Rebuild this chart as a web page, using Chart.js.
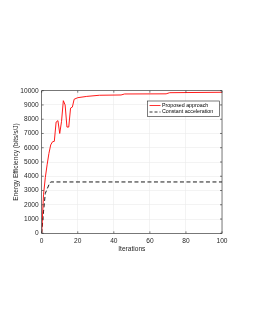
<!DOCTYPE html>
<html><head><meta charset="utf-8">
<script src="https://cdn.jsdelivr.net/npm/chart.js@4/dist/chart.umd.min.js"></script>
<style>html,body{margin:0;padding:0;background:#fff;}canvas{display:block;}</style>
</head><body>
<canvas id="c" width="255" height="330"></canvas>
<script>
const proposedX = [0,1,2,3,4,5,6,7,8,9,10,11,12,13,14,15,16,17,18,20,25,32,44,46,69,71,80,100];
const proposedY = [0,2700,3900,4800,5600,6200,6420,6450,7800,7900,7000,7850,9300,9000,7450,7450,8780,8850,9400,9510,9600,9680,9700,9770,9780,9860,9870,9890];
const constX = [0,1,2,3,4,5,100];
const constY = [0,1500,2800,3100,3400,3600,3600];
const xTicks = [0,20,40,60,80,100];
const yTicks = [0,1000,2000,3000,4000,5000,6000,7000,8000,9000,10000];
const seriesNames = ['Proposed approach','Constant acceleration'];
const xTitle = 'Iterations';
const yTitle = 'Energy Efficiency (bits/s/J)';

const FONT = 'Liberation Sans, Arial, sans-serif';
const AXC = '#262626';

const boxPlugin = {
  id:'box',
  afterDraw(chart){
    const {ctx, chartArea:a} = chart;
    ctx.save();
    ctx.strokeStyle = AXC; ctx.lineWidth = 0.6;
    ctx.strokeRect(a.left, a.top, a.right-a.left, a.bottom-a.top);
    const xs = chart.scales.x, ys = chart.scales.y;
    ctx.beginPath();
    xTicks.forEach(v=>{const p=xs.getPixelForValue(v); ctx.moveTo(p,a.bottom); ctx.lineTo(p,a.bottom-2); ctx.moveTo(p,a.top); ctx.lineTo(p,a.top+2);});
    yTicks.forEach(v=>{const p=ys.getPixelForValue(v); ctx.moveTo(a.left,p); ctx.lineTo(a.left+2,p); ctx.moveTo(a.right,p); ctx.lineTo(a.right-2,p);});
    ctx.stroke();
    // legend
    const lx = 147.5, ly = 101, lw = 72, lh = 15.5;
    ctx.fillStyle = '#fff'; ctx.fillRect(lx,ly,lw,lh);
    ctx.strokeStyle = AXC; ctx.lineWidth = 0.6; ctx.strokeRect(lx,ly,lw,lh);
    ctx.font = '5.3px ' + FONT; ctx.fillStyle = '#000'; ctx.textBaseline='middle';
    const rows = [[ly+4.5,'#ff0000',[]],[ly+11,'#000',[3,2]]];
    rows.forEach((r,i)=>{
      ctx.beginPath(); ctx.strokeStyle=r[1]; ctx.lineWidth=0.8; ctx.setLineDash(r[2]);
      ctx.moveTo(lx+2,r[0]); ctx.lineTo(lx+13,r[0]); ctx.stroke(); ctx.setLineDash([]);
      ctx.fillText(seriesNames[i], lx+14.5, r[0]);
    });
    ctx.restore();
  }
};

new Chart(document.getElementById('c'), {
  type:'line',
  data:{datasets:[
    {label:seriesNames[0], data:proposedX.map((x,i)=>({x, y:proposedY[i]})), borderColor:'#ff0000', borderWidth:0.9, pointRadius:0, tension:0, fill:false},
    {label:seriesNames[1], data:constX.map((x,i)=>({x, y:constY[i]})), borderColor:'#000000', borderWidth:0.9, borderDash:[4,2.5], pointRadius:0, tension:0, fill:false}
  ]},
  options:{
    responsive:false, animation:false, devicePixelRatio:1,
    layout:{padding:{top:90.7, right:33, left:8, bottom:76.7}},
    plugins:{legend:{display:false}, tooltip:{enabled:false}},
    scales:{
      x:{type:'linear', min:0, max:100,
         afterBuildTicks(s){s.ticks = xTicks.map(v=>({value:v}));},
         afterFit(s){s.height = 20;},
         grid:{color:'#ebebeb', lineWidth:0.6, drawTicks:false},
         border:{display:false},
         ticks:{color:AXC, font:{family:FONT,size:6.6}, padding:4, maxRotation:0, callback:v=>String(v)},
         title:{display:true, text:xTitle, color:AXC, font:{family:FONT,size:6.6}, padding:{top:5, bottom:0}}
      },
      y:{min:0, max:10000,
         afterBuildTicks(s){s.ticks = yTicks.map(v=>({value:v}));},
         afterFit(s){s.width = 33.7;},
         grid:{color:'#ebebeb', lineWidth:0.6, drawTicks:false},
         border:{display:false},
         ticks:{color:AXC, font:{family:FONT,size:6.6}, padding:3, callback:v=>String(v)},
         title:{display:true, text:yTitle, color:AXC, font:{family:FONT,size:6.6}, padding:{bottom:1}}
      }
    }
  },
  plugins:[boxPlugin]
});
</script>
</body></html>
